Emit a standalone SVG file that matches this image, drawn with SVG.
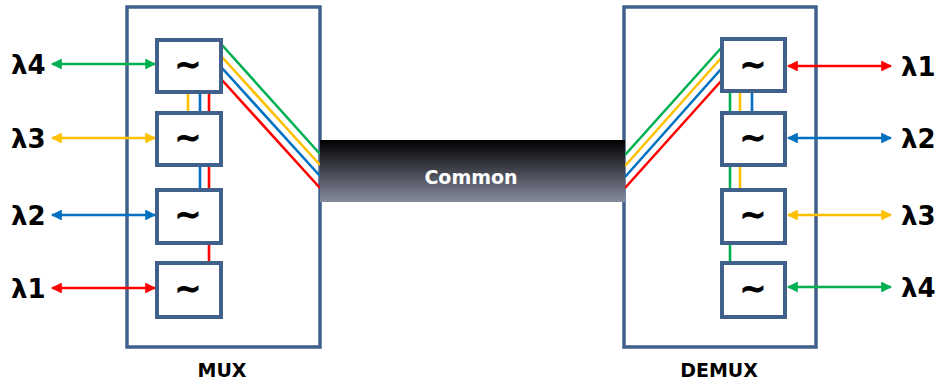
<svg xmlns="http://www.w3.org/2000/svg" width="941" height="385" viewBox="0 0 941 385">
<style>
.frame{fill:#fff;stroke:#41618D;stroke-width:3.5}
.box{fill:#fff;stroke:#41618D;stroke-width:4}
.tilde{font-family:"DejaVu Sans",sans-serif;font-weight:bold;font-size:32px;text-anchor:middle;fill:#000;stroke:#000;stroke-width:0.8}
.lab{font-family:"DejaVu Sans",sans-serif;font-weight:bold;font-size:26px;fill:#000}
.cap{font-family:"DejaVu Sans",sans-serif;font-weight:bold;font-size:19px;text-anchor:middle;fill:#000}
.w{fill:none;stroke-width:2.6}
.g{stroke:#00B050}.y{stroke:#FFC000}.b{stroke:#0070C0}.r{stroke:#FF0000}
</style>
<defs>
<linearGradient id="fib" x1="0" y1="0" x2="0" y2="1">
<stop offset="0" stop-color="#000"/>
<stop offset="1" stop-color="#868B9E"/>
</linearGradient>
<marker id="ag" viewBox="0 0 10 10" refX="9" refY="5" markerWidth="4.2" markerHeight="4.2" orient="auto-start-reverse" markerUnits="strokeWidth"><path d="M0,0L10,5L0,10z" fill="#00B050"/></marker>
<marker id="ay" viewBox="0 0 10 10" refX="9" refY="5" markerWidth="4.2" markerHeight="4.2" orient="auto-start-reverse" markerUnits="strokeWidth"><path d="M0,0L10,5L0,10z" fill="#FFC000"/></marker>
<marker id="ab" viewBox="0 0 10 10" refX="9" refY="5" markerWidth="4.2" markerHeight="4.2" orient="auto-start-reverse" markerUnits="strokeWidth"><path d="M0,0L10,5L0,10z" fill="#0070C0"/></marker>
<marker id="ar" viewBox="0 0 10 10" refX="9" refY="5" markerWidth="4.2" markerHeight="4.2" orient="auto-start-reverse" markerUnits="strokeWidth"><path d="M0,0L10,5L0,10z" fill="#FF0000"/></marker>
</defs>
<g id="mux">
<rect class="frame" x="127" y="7" width="193" height="340"/>
<text class="cap" x="222" y="377">MUX</text>
</g>
<g id="demux">
<rect class="frame" x="624" y="7" width="192" height="340"/>
<text class="cap" x="719" y="377">DEMUX</text>
</g>
<g id="connectors">
<line class="w y" x1="188" y1="92" x2="188" y2="113"/>
<line class="w b" x1="200" y1="92" x2="200" y2="190"/>
<line class="w r" x1="209" y1="92" x2="209" y2="263"/>
<line class="w g" x1="730" y1="91" x2="730" y2="263"/>
<line class="w y" x1="740" y1="91" x2="740" y2="190"/>
<line class="w b" x1="752" y1="91" x2="752" y2="113"/>
<line class="w g" x1="222" y1="45" x2="320" y2="154"/>
<line class="w y" x1="222" y1="57" x2="320" y2="165"/>
<line class="w b" x1="222" y1="68" x2="320" y2="176"/>
<line class="w r" x1="222" y1="80" x2="320" y2="188"/>
<line class="w g" x1="722" y1="47" x2="625" y2="155"/>
<line class="w y" x1="722" y1="57" x2="625" y2="166"/>
<line class="w b" x1="722" y1="68" x2="625" y2="177"/>
<line class="w r" x1="722" y1="80" x2="625" y2="188"/>
<line class="w g" x1="52" y1="64" x2="155" y2="64" marker-start="url(#ag)" marker-end="url(#ag)"/>
<line class="w y" x1="52" y1="138" x2="155" y2="138" marker-start="url(#ay)" marker-end="url(#ay)"/>
<line class="w b" x1="52" y1="215" x2="155" y2="215" marker-start="url(#ab)" marker-end="url(#ab)"/>
<line class="w r" x1="52" y1="288" x2="155" y2="288" marker-start="url(#ar)" marker-end="url(#ar)"/>
<line class="w r" x1="788" y1="66" x2="891" y2="66" marker-start="url(#ar)" marker-end="url(#ar)"/>
<line class="w b" x1="788" y1="138" x2="891" y2="138" marker-start="url(#ab)" marker-end="url(#ab)"/>
<line class="w y" x1="788" y1="215" x2="891" y2="215" marker-start="url(#ay)" marker-end="url(#ay)"/>
<line class="w g" x1="788" y1="287" x2="891" y2="287" marker-start="url(#ag)" marker-end="url(#ag)"/>
</g>
<g id="common">
<rect x="320" y="140" width="305" height="62" fill="url(#fib)"/>
<text x="471" y="184" font-family="DejaVu Sans, sans-serif" font-weight="bold" font-size="19" text-anchor="middle" fill="#fff">Common</text>
</g>
<g id="m1"><rect class="box" x="157" y="40" width="64" height="52"/><text class="tilde" x="188" y="75">~</text></g>
<g id="m2"><rect class="box" x="157" y="113" width="64" height="52"/><text class="tilde" x="188" y="148">~</text></g>
<g id="m3"><rect class="box" x="157" y="190" width="64" height="53"/><text class="tilde" x="188" y="225">~</text></g>
<g id="m4"><rect class="box" x="157" y="263" width="64" height="54"/><text class="tilde" x="188" y="299">~</text></g>
<g id="d1"><rect class="box" x="722" y="39" width="63" height="52"/><text class="tilde" x="753" y="75">~</text></g>
<g id="d2"><rect class="box" x="722" y="113" width="63" height="52"/><text class="tilde" x="753" y="148">~</text></g>
<g id="d3"><rect class="box" x="722" y="190" width="63" height="53"/><text class="tilde" x="753" y="225">~</text></g>
<g id="d4"><rect class="box" x="722" y="263" width="63" height="54"/><text class="tilde" x="753" y="299">~</text></g>
<g id="labels">
<text class="lab" x="11" y="74">λ4</text>
<text class="lab" x="11" y="148">λ3</text>
<text class="lab" x="11" y="225">λ2</text>
<text class="lab" x="11" y="298">λ1</text>
<text class="lab" x="901" y="76">λ1</text>
<text class="lab" x="901" y="148">λ2</text>
<text class="lab" x="901" y="225">λ3</text>
<text class="lab" x="901" y="297">λ4</text>
</g>
</svg>
